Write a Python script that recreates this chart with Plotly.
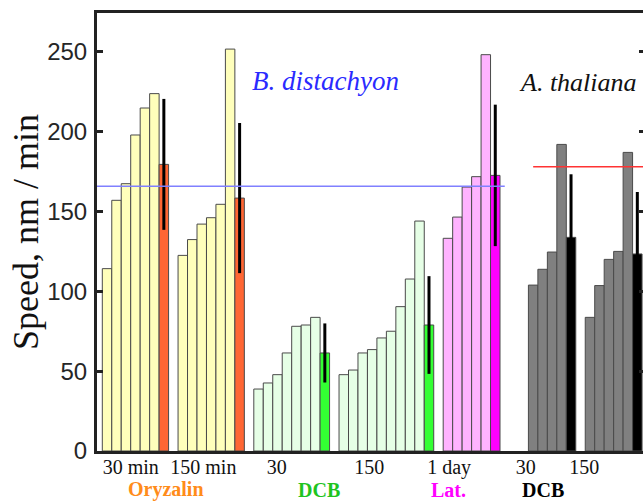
import plotly.graph_objects as go

# ---- data ----
oryz30_vals = [114.2, 157.0, 167.4, 197.9, 214.8, 223.8]
oryz30_mean, oryz30_err = 179.5, 41.0
oryz150_vals = [122.5, 132.4, 142.1, 146.1, 154.5, 251.7]
oryz150_mean, oryz150_err = 158.4, 47.0
dcb30_vals = [38.8, 42.6, 47.8, 61.4, 78.1, 78.9, 83.7]
dcb30_mean, dcb30_err = 61.4, 18.5
dcb150_vals = [47.8, 50.7, 61.4, 63.5, 70.8, 75.0, 90.4, 107.7, 144.0]
dcb150_mean, dcb150_err = 78.9, 30.6
lat_vals = [133.2, 146.5, 165.3, 171.8, 248.2]
lat_mean, lat_err = 172.6, 44.3
at30_vals = [103.9, 113.8, 124.6, 192.0]
at30_mean, at30_err = 133.8, 39.5
at150_vals = [83.7, 103.6, 120.0, 125.0, 187.0]
at150_mean, at150_err = 123.4, 38.8

ref_bdist = 165.8   # B. distachyon control speed
ref_athal = 178.0   # A. thaliana control speed

group_labels = ["30 min", "150 min", "30", "150", "1 day", "30", "150"]
treatment_labels = ["Oryzalin", "DCB", "Lat.", "DCB"]
y_ticks = [0, 50, 100, 150, 200, 250]

# ---- styles ----
light_cols = ["#ffffbb", "#ffffbb", "#e6ffe6", "#e6ffe6", "#ffb3ff", "#808080", "#808080"]
dark_cols = ["#ff6633", "#ff6633", "#33ff33", "#33ff33", "#ff00ff", "#000000", "#000000"]
gaps = [0, 1, 1, 1, 1, 3, 1]
outline = "#4a4a4a"

series = [
    (oryz30_vals, oryz30_mean, oryz30_err),
    (oryz150_vals, oryz150_mean, oryz150_err),
    (dcb30_vals, dcb30_mean, dcb30_err),
    (dcb150_vals, dcb150_mean, dcb150_err),
    (lat_vals, lat_mean, lat_err),
    (at30_vals, at30_mean, at30_err),
    (at150_vals, at150_mean, at150_err),
]

fig = go.Figure()
pos = 0
for (vals, mean, err), gap, lc, dc in zip(series, gaps, light_cols, dark_cols):
    pos += gap
    xs = list(range(pos, pos + len(vals)))
    fig.add_trace(go.Bar(x=xs, y=vals, width=1,
                         marker=dict(color=lc, line=dict(color=outline, width=1)),
                         showlegend=False, hoverinfo="y"))
    pos += len(vals)
    fig.add_trace(go.Bar(x=[pos], y=[mean], width=1,
                         marker=dict(color=dc, line=dict(color=outline, width=1)),
                         error_y=dict(type="data", array=[err], color="black",
                                      thickness=3, width=0),
                         showlegend=False, hoverinfo="y"))
    pos += 1

# invisible trace to carry the right-hand tick axis
fig.add_trace(go.Scatter(x=[None], y=[None], yaxis="y2", showlegend=False))

tick_pos = [2.51, 10.17, 17.92, 27.68, 36.13, 44.22, 50.39]
treat_pos = [6.21, 22.4, 36.04, 46.07]
treat_cols = ["#ff8c1a", "#1fc41f", "#ff00ff", "#000000"]

yr = [0, 274.3]
fig.update_layout(
    width=643, height=502,
    margin=dict(l=97, r=0, t=13, b=51),
    paper_bgcolor="white", plot_bgcolor="white",
    barmode="overlay",
    xaxis=dict(range=[-1.06, 56.6], showgrid=False, zeroline=False, automargin=False,
               showline=True, linewidth=3, linecolor="#222222", mirror=True,
               ticks="", tickvals=tick_pos, ticktext=group_labels,
               ticklabelstandoff=-4,
               tickfont=dict(family="Liberation Serif", size=20, color="#111111")),
    yaxis=dict(range=yr, showgrid=False, zeroline=False, automargin=False,
               showline=True, linewidth=3, linecolor="#222222",
               ticks="inside", ticklen=6, tickwidth=2.5, tickcolor="#222222",
               tickvals=y_ticks, ticklabelstandoff=2,
               tickfont=dict(family="Liberation Sans", size=24, color="#262626")),
    yaxis2=dict(range=yr, overlaying="y", side="right", showgrid=False, automargin=False,
                zeroline=False, showline=False, showticklabels=False,
                ticks="inside", ticklen=4, tickwidth=2.5, tickcolor="#222222",
                tickvals=y_ticks),
    font=dict(family="Liberation Serif"),
)

fig.add_shape(type="line", xref="x", yref="y", x0=-1.06, x1=42.0,
              y0=ref_bdist, y1=ref_bdist, line=dict(color="#8080ff", width=1.5),
              layer="above")
fig.add_shape(type="line", xref="x", yref="y", x0=45.0, x1=56.6,
              y0=ref_athal, y1=ref_athal, line=dict(color="#ff3333", width=1.5),
              layer="above")

fig.add_annotation(x=15.1, y=231.5, xref="x", yref="y", text="<i>B. distachyon</i>",
                   showarrow=False, xanchor="left", yanchor="middle",
                   font=dict(family="Liberation Serif", size=27, color="#2a2aff"))
fig.add_annotation(x=43.3, y=231.0, xref="x", yref="y", text="<i>A. thaliana</i>",
                   showarrow=False, xanchor="left", yanchor="middle",
                   font=dict(family="Liberation Serif", size=26, color="#111111"))

for t, p, c in zip(treatment_labels, treat_pos, treat_cols):
    fig.add_annotation(x=p, y=-0.089, xref="x", yref="paper", text=f"<b>{t}</b>",
                       showarrow=False, xanchor="center", yanchor="middle",
                       font=dict(family="Liberation Serif", size=20, color=c))

fig.add_annotation(x=-0.13, y=0.50, xref="paper", yref="paper",
                   text="Speed, nm / min", textangle=-90, showarrow=False,
                   xanchor="center", yanchor="middle",
                   font=dict(family="Liberation Serif", size=36, color="#111111"))

fig.write_html("out.html", config={"displayModeBar": False},
               post_script="document.body.style.margin='0px';document.body.style.overflow='hidden';")
